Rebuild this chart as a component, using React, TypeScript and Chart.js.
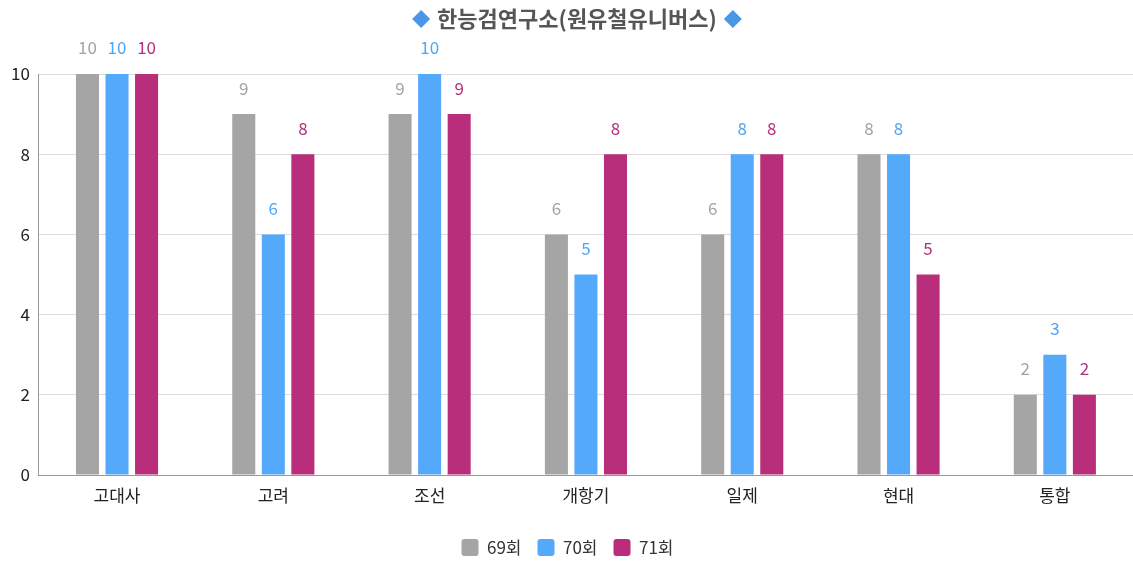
import React, { useEffect, useRef } from "react";
import { Chart, registerables } from "chart.js";

Chart.register(...registerables);

const categories = ["고대사", "고려", "조선", "개항기", "일제", "현대", "통합"];
const series69 = [10, 9, 9, 6, 6, 8, 2];
const series70 = [10, 6, 10, 5, 8, 8, 3];
const series71 = [10, 8, 9, 8, 8, 5, 2];
const seriesNames = ["69회", "70회", "71회"];
const titleText = "한능검연구소(원유철유니버스)";

const FONT = "'Noto Sans CJK KR', 'Noto Sans', sans-serif";
const barColors = ["#a5a5a5", "#55a9fb", "#b92e7b"];
const labelColors = ["#a3a3a3", "#4fa6f6", "#b3307a"];

const titlePlugin = {
  id: "customTitle",
  afterDraw(chart: any) {
    const ctx = chart.ctx;
    ctx.save();
    ctx.font = `bold 22px ${FONT}`;
    ctx.textBaseline = "middle";
    const cx = 577;
    const y = 19;
    const tw = ctx.measureText(titleText).width;
    ctx.fillStyle = "#555555";
    ctx.textAlign = "center";
    ctx.fillText(titleText, cx, y);
    const drawDiamond = (x: number) => {
      ctx.beginPath();
      ctx.moveTo(x, y - 9);
      ctx.lineTo(x + 9, y);
      ctx.lineTo(x, y + 9);
      ctx.lineTo(x - 9, y);
      ctx.closePath();
      ctx.fillStyle = "#4a97e8";
      ctx.fill();
    };
    drawDiamond(cx - tw / 2 - 16);
    drawDiamond(cx + tw / 2 + 16);
    ctx.restore();
  },
};

const labelPlugin = {
  id: "valueLabels",
  afterDatasetsDraw(chart: any) {
    const ctx = chart.ctx;
    ctx.save();
    ctx.font = `17px ${FONT}`;
    ctx.textAlign = "center";
    ctx.textBaseline = "middle";
    chart.data.datasets.forEach((ds: any, i: number) => {
      const meta = chart.getDatasetMeta(i);
      meta.data.forEach((bar: any, j: number) => {
        ctx.fillStyle = labelColors[i];
        ctx.fillText(String(ds.data[j]), bar.x, bar.y - 26);
      });
    });
    ctx.restore();
  },
};

export default function App() {
  const ref = useRef<HTMLCanvasElement>(null);
  useEffect(() => {
    document.body.style.margin = "0";
    const chart = new Chart(ref.current!, {
      type: "bar",
      data: {
        labels: categories,
        datasets: [series69, series70, series71].map((d, i) => ({
          label: seriesNames[i],
          data: d,
          backgroundColor: barColors[i],
          borderWidth: 0,
          categoryPercentage: 0.567,
          barPercentage: 0.78,
        })),
      },
      options: {
        animation: false,
        responsive: false,
        layout: { padding: { top: 74, right: 0, left: 2, bottom: -5 } },
        plugins: {
          title: { display: false },
          tooltip: { enabled: false },
          legend: {
            position: "bottom",
            labels: {
              boxWidth: 17,
              boxHeight: 17,
              useBorderRadius: true,
              borderRadius: 3,
              color: "#333",
              font: { family: FONT, size: 17 },
              padding: 16,
            },
          },
        },
        scales: {
          x: {
            grid: { display: false, drawTicks: false },
            border: { color: "#999" },
            ticks: { color: "#222", font: { family: FONT, size: 17 }, padding: 10 },
            afterFit(scale: any) {
              scale.height = 48;
            },
          },
          y: {
            min: 0,
            max: 10,
            ticks: { stepSize: 2, color: "#222", font: { family: FONT, size: 17 }, padding: 9 },
            grid: { color: "#dcdcdc", drawTicks: false },
            border: { color: "#999" },
          },
        },
      },
      plugins: [titlePlugin, labelPlugin],
    });
    return () => chart.destroy();
  }, []);
  return <canvas ref={ref} width={1133} height={561} style={{ display: "block" }} />;
}
